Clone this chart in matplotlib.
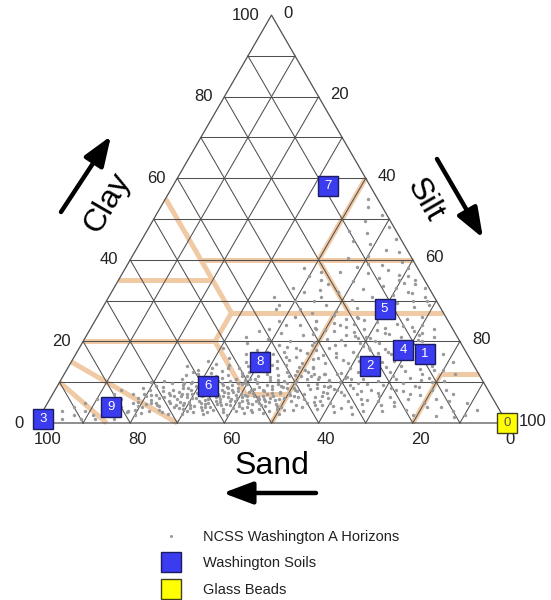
import numpy as np
import matplotlib
matplotlib.use("Agg")
import matplotlib.pyplot as plt
from matplotlib.lines import Line2D

plt.rcParams['font.family'] = ['Liberation Sans', 'DejaVu Sans']

# ---------------- data ----------------
grid_steps = [10, 20, 30, 40, 50, 60, 70, 80, 90]
tick_values = [0, 20, 40, 60, 80, 100]

# Washington soils (percent)
soil_ids = ['1', '2', '3', '4', '5', '6', '7', '8', '9']
soil_sand = [9, 22, 98, 13, 12, 59, 9, 45, 82]
soil_silt = [74, 64, 1, 69, 60, 32, 33, 40, 14]
soil_clay = [17, 14, 1, 18, 28, 9, 58, 15, 4]

# Glass beads
bead_ids = ['0']
bead_sand = [0]
bead_silt = [100]
bead_clay = [0]

# USDA texture class boundaries: pairs of (sand, silt, clay) end points
class_lines = [
    [(45, 0, 55), (45, 28, 27)],
    [(45, 15, 40), (0, 60, 40)],
    [(65, 0, 35), (45, 20, 35)],
    [(45, 28, 27), (0, 73, 27)],
    [(20, 40, 40), (20, 53, 27)],
    [(0, 40, 60), (20, 40, 40)],
    [(45, 28, 27), (52, 28, 20)],
    [(80, 0, 20), (52, 28, 20)],
    [(52, 28, 20), (52, 41, 7)],
    [(52, 41, 7), (43, 50, 7)],
    [(23, 50, 27), (50, 50, 0)],
    [(8, 80, 12), (20, 80, 0)],
    [(8, 80, 12), (0, 88, 12)],
    [(85, 15, 0), (90, 0, 10)],
    [(70, 30, 0), (85, 0, 15)],
]

# NCSS Washington A horizons: (clay, silt) percent
ncss_sandy = [(1, 3), (2, 2), (1, 5), (3, 4), (2, 7), (1, 9), (4, 6), (3, 9), (2, 11), (4, 12),
              (5, 8), (3, 14), (1, 12), (5, 13), (6, 10), (2, 15), (4, 16), (6, 15), (3, 18),
              (7, 13), (1, 16), (5, 18), (2, 20), (7, 17), (8, 14)]
ncss_band = [(2.5, 21), (3.1, 24.5), (2.2, 27), (3.4, 29.5), (2.8, 32), (2.1, 34.5), (3.3, 36),
             (2.6, 38.5), (3.0, 41), (2.4, 43), (3.5, 45.5), (2.9, 48), (2.3, 50.5), (3.2, 53),
             (2.7, 25.5), (3.6, 31), (2.0, 39.5), (3.1, 44), (2.5, 47), (3.8, 27.5), (2.2, 30),
             (3.3, 33.5), (2.9, 22.5), (3.7, 40),
             (4.2, 19.5), (4.8, 22), (4.1, 24), (5.3, 25.5), (4.5, 27.5), (5.0, 29), (4.3, 30.5),
             (5.4, 32), (4.7, 33.5), (4.0, 35), (5.2, 36.5), (4.6, 38), (5.5, 39.5), (4.2, 41),
             (4.9, 42.5), (5.3, 44), (4.4, 45.5), (5.1, 47), (4.7, 48.5), (4.0, 50), (5.4, 51.5),
             (4.5, 53), (5.0, 55), (4.3, 57), (4.8, 26), (5.2, 28), (4.1, 31.5), (4.9, 34),
             (5.5, 35.5), (4.4, 37), (5.0, 40.5), (4.6, 43.5), (5.3, 46), (4.2, 49), (4.9, 23),
             (5.1, 30), (4.7, 36), (4.3, 39),
             (6.2, 18.5), (6.8, 21), (6.1, 23), (7.3, 24.5), (6.5, 26), (7.0, 27.5), (6.3, 29),
             (7.4, 30.5), (6.7, 32), (6.0, 33.5), (7.2, 35), (6.6, 36.5), (7.5, 38), (6.2, 39.5),
             (6.9, 41), (7.3, 42.5), (6.4, 44), (7.1, 45.5), (6.7, 47), (6.0, 48.5), (7.4, 50),
             (6.5, 51.5), (7.0, 53.5), (6.3, 56), (6.8, 25), (7.2, 28.5), (6.1, 31), (6.9, 33),
             (7.5, 34.5), (6.4, 37.5), (7.0, 40), (6.6, 43), (7.3, 46.5), (6.2, 49.5), (6.9, 22),
             (7.1, 29.5), (6.7, 35.5), (6.3, 40.5), (7.4, 37), (6.5, 45),
             (8.2, 20), (8.8, 22.5), (8.1, 25), (9.3, 26.5), (8.5, 28), (9.0, 29.5), (8.3, 31),
             (9.4, 32.5), (8.7, 34), (8.0, 35.5), (9.2, 37), (8.6, 38.5), (9.5, 40), (8.2, 41.5),
             (8.9, 43), (9.3, 44.5), (8.4, 46), (9.1, 47.5), (8.7, 49), (8.0, 51), (9.4, 53),
             (8.5, 55.5), (9.0, 58), (8.6, 27), (9.2, 30.5), (8.3, 33.5), (8.9, 36), (9.5, 39),
             (8.4, 42), (9.0, 45.5), (8.8, 48), (8.1, 37.5), (9.3, 35),
             (10.2, 22), (10.8, 25.5), (10.1, 28), (11.3, 30), (10.5, 32), (11.0, 34), (10.3, 36),
             (11.4, 38), (10.7, 40), (10.0, 42), (11.2, 44), (10.6, 46), (11.5, 48), (10.2, 50),
             (10.9, 52), (11.3, 54.5), (10.4, 57), (11.1, 60), (11.8, 26), (12.2, 31), (11.7, 35),
             (12.4, 39), (11.9, 43), (12.5, 47), (11.6, 50.5), (12.1, 53), (10.8, 37), (11.4, 41.5),
             (10.5, 44.5)]
ncss_band_dense = [(3.9, 20.5), (4.4, 23.5), (5.7, 21.5), (6.4, 24), (5.8, 27), (3.6, 28.5),
                   (6.1, 30), (5.6, 33), (3.9, 34), (6.3, 35), (5.9, 38.5), (3.4, 38), (6.5, 41.5),
                   (5.7, 42), (3.8, 43), (6.2, 46.5), (5.6, 48), (3.5, 49.5), (6.4, 52.5), (5.8, 54),
                   (7.8, 23), (9.7, 24), (7.6, 26.5), (9.8, 28), (7.9, 32), (9.6, 31.5), (7.7, 36),
                   (9.9, 34.5), (7.8, 39), (9.7, 38), (7.6, 41.5), (9.8, 42), (7.9, 44.5), (9.6, 46.5),
                   (7.7, 48), (9.9, 50), (7.8, 51.5), (9.5, 55), (11.9, 28.5), (12.8, 33), (13.4, 36.5),
                   (12.9, 41), (13.5, 44.5), (12.7, 49), (13.9, 38), (14.3, 46), (11.7, 45.5),
                   (12.3, 37.5), (10.6, 39), (11.9, 55.5), (13.1, 50.5), (14.6, 40.5), (15.2, 43.5),
                   (14.8, 49), (16.1, 45), (15.6, 38.5), (16.8, 42), (17.9, 47), (17.3, 40.5),
                   (18.6, 44), (5.2, 19), (3.2, 19.5), (7.0, 19.5), (8.6, 18.5), (10.0, 19.5),
                   (9.0, 21), (6.6, 20), (4.6, 21), (2.8, 18), (5.4, 41), (4.8, 45), (5.9, 44.5),
                   (6.8, 39), (7.9, 34.5), (8.8, 32), (9.9, 39.5), (10.9, 41), (11.6, 39), (8.2, 44),
                   (7.4, 48), (6.9, 50.5), (8.5, 50.5), (9.7, 48.5), (10.3, 47.5), (11.8, 49),
                   (12.6, 51.5), (10.7, 54.5), (9.1, 56.5), (8.3, 54), (6.0, 45.5), (5.0, 32.5),
                   (4.5, 29), (6.6, 27.5), (8.0, 29), (9.9, 26.5), (10.9, 30.5), (12.5, 27),
                   (13.6, 30.5), (14.1, 34), (11.5, 32.5), (10.2, 33.5), (8.5, 36.5), (7.1, 31.5),
                   (6.0, 36), (5.3, 38.5), (4.0, 33), (3.0, 30.5), (2.6, 35), (3.6, 42), (4.2, 46.5),
                   (3.3, 51), (2.6, 44.5), (4.0, 54.5), (5.5, 57.5), (7.4, 58), (8.4, 59), (10.0, 59.5),
                   (12.3, 58.5)]
ncss_loam = [(13, 28), (14.5, 31), (13.5, 34), (15, 37), (13.2, 40), (14.2, 43), (15.5, 46),
             (13.8, 49), (16, 33), (17, 36), (16.5, 40), (17.5, 44), (16.2, 47), (18, 38), (19, 42),
             (18.5, 46), (19.5, 35), (14, 25), (15.2, 29), (13.6, 52), (15.8, 51), (17.2, 49),
             (18.3, 30.5), (20, 44), (20.5, 39), (21.5, 46), (22, 41), (23, 48), (21, 34), (24, 44),
             (22.5, 36), (25, 47), (19, 49)]
ncss_siltloam = [(3.5, 58), (4.2, 61), (3.8, 65), (5.0, 60), (5.5, 63.5), (4.6, 67), (6.2, 59),
                 (6.8, 62), (6.0, 66), (7.5, 61), (7.2, 64.5), (8.0, 60), (8.5, 63), (8.1, 67),
                 (9.2, 62), (9.6, 65.5), (5.3, 70), (6.4, 72), (4.1, 74), (7.3, 69), (8.7, 71),
                 (5.9, 76), (7.8, 74), (3.2, 77), (6.9, 78), (4.8, 80), (9.4, 69), (2.6, 62),
                 (3.0, 68), (5.2, 56.5), (7.7, 57), (2.9, 72),
                 (10.5, 57), (11.2, 60.5), (10.8, 64), (12.0, 58), (12.6, 62), (12.3, 66), (13.5, 60),
                 (13.1, 63.5), (13.8, 67.5), (14.6, 59), (14.2, 62.5), (14.9, 66), (15.5, 57.5),
                 (15.1, 61), (15.8, 64.5), (16.5, 60), (16.2, 63), (16.9, 67), (17.4, 58.5),
                 (17.8, 62), (11.5, 70), (12.8, 72), (14.0, 70.5), (15.4, 73), (16.6, 70), (13.2, 75),
                 (11.0, 74), (17.5, 66), (10.2, 67.5), (12.1, 55), (14.7, 54), (16.3, 55.5),
                 (13.7, 52), (11.6, 52.5), (15.9, 52),
                 (18.5, 53), (19.2, 56), (18.8, 60), (19.6, 63), (20.3, 54.5), (20.8, 58), (20.1, 62),
                 (21.5, 55), (21.2, 59.5), (21.8, 64), (22.5, 52), (22.2, 56.5), (22.9, 61), (23.5, 54),
                 (23.1, 58), (23.8, 66), (24.5, 51), (24.2, 55.5), (24.8, 60), (25.5, 53), (25.2, 57),
                 (25.9, 62), (26.4, 50), (26.1, 55), (19.5, 68), (21, 67), (22.6, 69), (20.4, 71),
                 (18.2, 65), (24.3, 64.5), (19.9, 49), (21.7, 48), (23.4, 47.5), (25.1, 47), (26.5, 59),
                 (12, 76), (14, 77), (16, 75), (18, 73), (20, 72), (22, 71), (24, 70), (19, 75),
                 (17, 78), (13, 80), (11, 78), (15, 81), (21, 74), (23, 73), (26, 69), (10, 79),
                 (9, 76), (8, 80), (12, 83), (6, 82), (7, 85), (4, 84), (3, 87), (5, 89), (2, 90),
                 (4.5, 58.5), (6.5, 57.5), (8.9, 57.5), (10.7, 61.5), (9.9, 63.5), (11.8, 63),
                 (13.3, 65), (12.4, 69), (15.2, 68.5), (14.5, 64), (17.1, 64), (18.3, 61.5),
                 (19.7, 59), (20.9, 60.5), (22.1, 63), (23.3, 62.5), (21.3, 57), (19.0, 54),
                 (17.2, 55), (16.7, 52.5), (18.0, 50.5), (20.6, 51.5), (22.8, 50), (24.1, 52.5),
                 (25.7, 55.5), (5.7, 67.5), (7.9, 65), (6.6, 69.5), (4.4, 71), (8.0, 72.5),
                 (9.8, 73), (10.8, 71), (3.7, 63), (2.3, 66), (5.1, 73.5), (7.0, 76), (8.8, 77),
                 (10.5, 76.5), (12.9, 78), (14.8, 75.5), (16.4, 73), (18.7, 70), (20.2, 68.5),
                 (21.6, 70.5), (23.6, 68), (25.4, 66), (2.0, 79), (3.9, 81), (1.8, 84), (5.5, 85),
                 (8.1, 83), (10.2, 81.5), (3.1, 92), (1.5, 88)]
ncss_clayey = [(27.5, 50), (28.2, 54), (28.8, 58), (29.5, 62), (30.2, 52), (30.8, 56), (31.5, 60),
               (32.2, 48), (32.8, 53), (33.5, 57), (34.2, 61), (34.8, 50), (35.5, 55), (36.2, 59),
               (36.8, 52), (37.5, 56), (38.2, 49), (38.8, 54), (39.5, 58), (28.5, 66), (30, 68),
               (31.8, 64), (33, 66), (35, 63), (29, 47), (31, 45), (37, 46), (39, 51), (27.8, 62),
               (32.5, 44), (28, 42), (30, 40), (33, 38), (35, 43), (36, 40), (29, 37), (31, 35),
               (38, 38), (37, 42), (34, 45), (32, 41), (30, 44), (27, 45), (26, 42), (25, 39),
               (28, 37), (24, 41), (23, 38),
               (30, 65), (32, 63), (34, 63.5), (36, 61), (38, 60), (33, 60), (31, 67), (29, 69),
               (35, 59.5),
               (41, 50), (42.5, 53), (44, 49), (45, 54), (46.5, 47), (48, 51), (49.5, 45), (51, 48),
               (53, 44), (42, 56), (44.5, 45), (47, 43), (55, 43), (40.5, 46)]

ncss_pairs = ncss_sandy + ncss_band + ncss_band_dense + ncss_loam + ncss_siltloam + ncss_clayey
ncss_clay = np.array([p[0] for p in ncss_pairs])
ncss_silt = np.array([p[1] for p in ncss_pairs])
ncss_sand = 100 - ncss_clay - ncss_silt

# ---------------- helpers ----------------
H = np.sqrt(3) / 2


def tern(sand, silt, clay):
    sand = np.asarray(sand, float)
    silt = np.asarray(silt, float)
    clay = np.asarray(clay, float)
    tot = sand + silt + clay
    x = (silt + clay / 2) / tot * 100
    y = clay * H / tot * 100
    return x, y


W, HPX = 551, 600
fig = plt.figure(figsize=(W / 100, HPX / 100), dpi=100)
ax = fig.add_axes([0, 0, 1, 1])
scale = 4.71
x0, ybase = 36, 423
ax.set_xlim(-x0 / scale, (W - x0) / scale)
ax.set_ylim(-(HPX - ybase) / scale, ybase / scale)
ax.axis('off')

grid_col = '#505050'
# grid lines
for v in grid_steps:
    xs, ys = tern([100 - v, 0], [0, 100 - v], [v, v])      # clay = v
    ax.plot(xs, ys, color=grid_col, lw=0.75, zorder=2)
    xs, ys = tern([100 - v, 0], [v, v], [0, 100 - v])      # silt = v
    ax.plot(xs, ys, color=grid_col, lw=0.75, zorder=2)
    xs, ys = tern([v, v], [100 - v, 0], [0, 100 - v])      # sand = v
    ax.plot(xs, ys, color=grid_col, lw=0.75, zorder=2)
xs, ys = tern([100, 0, 0, 100], [0, 100, 0, 0], [0, 0, 100, 0])
ax.plot(xs, ys, color=grid_col, lw=0.9, zorder=2)

# texture class boundaries
for seg in class_lines:
    a, b = seg
    xs, ys = tern([a[0], b[0]], [a[1], b[1]], [a[2], b[2]])
    ax.plot(xs, ys, color='#f0c9a5', lw=3.6, solid_capstyle='butt', zorder=1)

# NCSS points
px, py = tern(ncss_sand, ncss_silt, ncss_clay)
ax.scatter(px, py, s=6, color='#999999', linewidths=0, zorder=3)

# Washington soils
sx, sy = tern(soil_sand, soil_silt, soil_clay)
ax.plot(sx, sy, linestyle='none', marker='s', markersize=14.5,
        markerfacecolor='#3b3bef', markeredgecolor='#1c1c60', markeredgewidth=1.0, zorder=4)
for lab, xx, yy in zip(soil_ids, sx, sy):
    ax.text(xx, yy, lab, color='white', fontsize=9.5, ha='center', va='center', zorder=5)

# Glass beads
bx, by = tern(bead_sand, bead_silt, bead_clay)
ax.plot(bx, by, linestyle='none', marker='s', markersize=14.5,
        markerfacecolor='#ffff00', markeredgecolor='#404020', markeredgewidth=1.0, zorder=4)
for lab, xx, yy in zip(bead_ids, bx, by):
    ax.text(xx, yy, lab, color='#555555', fontsize=9.5, ha='center', va='center', zorder=5)

# tick labels
tick_fs = 12
for v in tick_values:
    x, y = tern(100 - v, 0, v)       # clay, left edge
    ax.annotate(str(v), (x, y), xytext=(-12, 0), textcoords='offset pixels',
                ha='right', va='center', fontsize=tick_fs, color='#222222')
    x, y = tern(0, v, 100 - v)       # silt, right edge
    ax.annotate(str(v), (x, y), xytext=(12, 2), textcoords='offset pixels',
                ha='left', va='center', fontsize=tick_fs, color='#222222')
    x, y = tern(v, 100 - v, 0)       # sand, bottom edge
    ax.annotate(str(v), (x, y), xytext=(-2, -17), textcoords='offset pixels',
                ha='left', va='center', fontsize=tick_fs, color='#222222')

# axis titles
title_fs = 23
fig.text(107 / W, 1 - 203 / HPX, 'Clay', rotation=60, ha='center', va='center',
         fontsize=title_fs, rotation_mode='anchor')
fig.text(425 / W, 1 - 200 / HPX, 'Silt', rotation=-60, ha='center', va='center',
         fontsize=title_fs, rotation_mode='anchor')
fig.text(272 / W, 1 - 466 / HPX, 'Sand', ha='center', va='center', fontsize=title_fs)

# arrows
arrow_kw = dict(arrowstyle='-|>,head_length=1.2,head_width=0.45', lw=3.2,
                color='black', mutation_scale=15, shrinkA=0, shrinkB=0)
for tail, tip in [((61, 212), (111, 136)), ((437, 159), (483, 238)), ((316, 493), (223, 493))]:
    ax.annotate('', xy=(tip[0], HPX - tip[1]), xycoords='figure pixels',
                xytext=(tail[0], HPX - tail[1]), textcoords='figure pixels',
                arrowprops=arrow_kw)

# legend
handles = [
    Line2D([], [], linestyle='none', marker='o', markersize=2.2,
           markerfacecolor='#999999', markeredgewidth=0),
    Line2D([], [], linestyle='none', marker='s', markersize=14.5,
           markerfacecolor='#3b3bef', markeredgecolor='#1c1c60', markeredgewidth=1.0),
    Line2D([], [], linestyle='none', marker='s', markersize=14.5,
           markerfacecolor='#ffff00', markeredgecolor='#404020', markeredgewidth=1.0),
]
labels = ['NCSS Washington A Horizons', 'Washington Soils', 'Glass Beads']
leg = ax.legend(handles, labels, loc='upper left',
                bbox_to_anchor=(155 / W, 1 - 524 / HPX), bbox_transform=fig.transFigure,
                frameon=False, fontsize=10.5, handlelength=1.4, handletextpad=1.5,
                labelspacing=0.86, borderpad=0.4, borderaxespad=0)
for t in leg.get_texts():
    t.set_color('#222222')

fig.savefig('out.png', dpi=100)
